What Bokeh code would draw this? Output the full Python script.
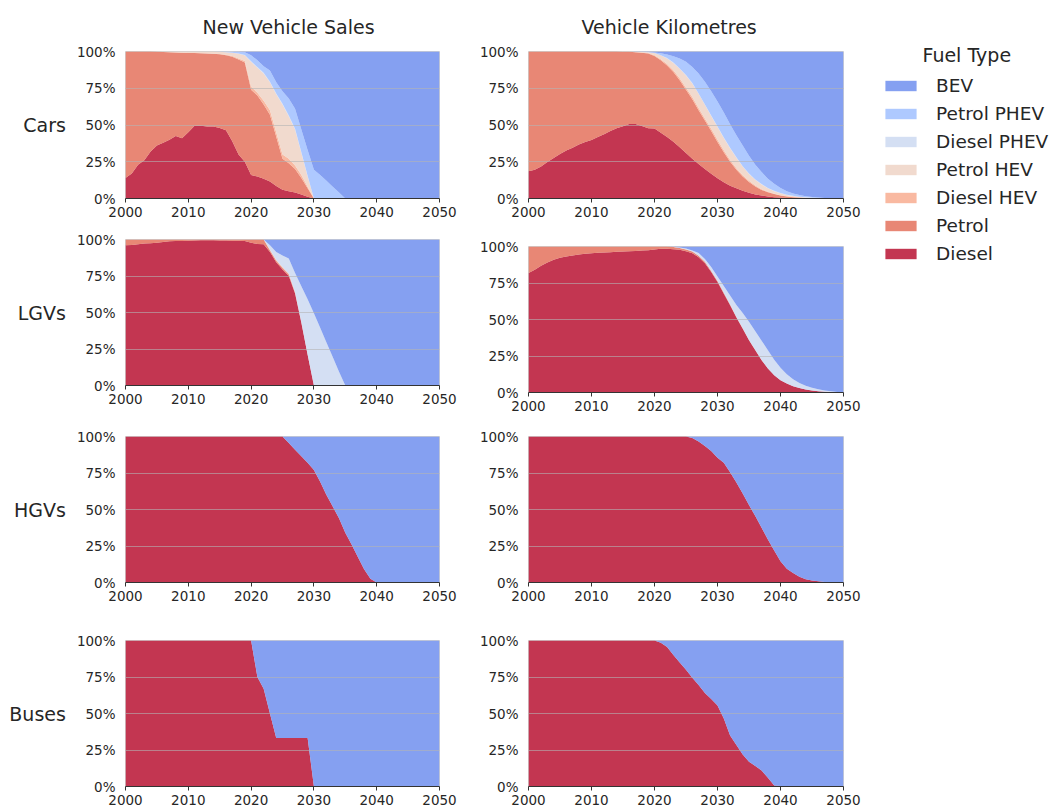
from bokeh.plotting import figure
from bokeh.layouts import row, column
from bokeh.models import (ColumnDataSource, Legend, LegendItem, FixedTicker,
                          PrintfTickFormatter, Range1d, LinearAxis)
from bokeh.embed import file_html
from bokeh.resources import INLINE

YEARS = list(range(2000, 2051))
X_TICKS = [2000, 2010, 2020, 2030, 2040, 2050]
Y_TICKS = [0, 25, 50, 75, 100]

FUELS = ["Diesel", "Petrol", "Diesel HEV", "Petrol HEV", "Diesel PHEV", "Petrol PHEV", "BEV"]
KEYS = ["diesel", "petrol", "diesel_hev", "petrol_hev", "diesel_phev", "petrol_phev", "bev"]
COLORS = ["#b40426", "#e26952", "#f7a889", "#edd1c2", "#c9d7f0", "#9abbff", "#6788ee"]

COL_TITLES = ["New Vehicle Sales", "Vehicle Kilometres"]
ROW_LABELS = ["Cars", "LGVs", "HGVs", "Buses"]
LEGEND_TITLE = "Fuel Type"

# ---------------- Cars: new vehicle sales (% share) ----------------
cars_sales_diesel = [14, 17, 23, 26, 32, 36, 38, 40, 42.5, 41,
                     45, 49.5, 49.5, 49, 49, 48, 46.5, 39, 30, 25,
                     16, 15, 13.5, 11.5, 8.5, 6, 5, 4, 2.8, 1.2, 0] + [0] * 20
cars_sales_petrol = [86, 83, 77, 74, 68, 63.8, 61.6, 59.5, 56.8, 58.2,
                     54, 49.5, 49.3, 49.7, 49.5, 50.2, 51, 57.5, 64.5, 67.5,
                     58, 55, 50.5, 45.5, 33.5, 21, 19, 16, 11.2, 5.8, 0] + [0] * 20
cars_sales_diesel_hev = [0] * 15 + [0.1, 0.3, 0.5, 0.8, 1, 2, 2, 2.5, 3, 3, 3, 3, 2.5, 2, 1, 0] + [0] * 20
cars_sales_petrol_hev = [0, 0, 0, 0, 0, 0.2, 0.4, 0.5, 0.7, 0.8,
                         1, 1, 1.2, 1.3, 1.5, 1.6, 1.7, 2.2, 3.2, 4,
                         17, 17, 18.5, 19, 26, 34, 29, 24.5, 15, 7, 0] + [0] * 20
cars_sales_diesel_phev = [0] * 18 + [0.1, 0.2, 0.3, 0.5, 0.5, 0.5, 0.5, 0.5, 0.5, 0.5, 0.5, 0.5, 0] + [0] * 20
cars_sales_petrol_phev = [0] * 15 + [0.1, 0.5, 0.8, 1.2, 1.8, 4.2, 4.5, 4.5, 7.5, 7.5, 8.5, 11.5,
                                     13.5, 15.5, 17.5, 19.5, 16, 12, 8, 4, 0] + [0] * 15
cars_sales_bev = [0] * 18 + [0.2, 0.5, 2.5, 6, 10, 13, 21, 27, 32, 39, 53, 67,
                             80.5, 84, 88, 92, 96] + [100] * 16

# ---------------- Cars: vehicle kilometres (% share) ----------------
cars_km_diesel = [18.5, 19.5, 21.8, 24.8, 27.6, 30.3, 32.6, 34.5, 36.8, 38.4,
                  39.8, 41.8, 43.7, 46, 47.8, 49.2, 50.6, 50.6, 49.4, 47.8,
                  47.6, 44.8, 41.8, 38.6, 34.9, 31, 27.1, 23.4, 20, 16.8,
                  13.8, 11, 8.7, 6.9, 5.3, 3.9, 2.8, 2.1, 1.4, 0.9,
                  0.7, 0.4, 0.3, 0.2, 0.1, 0.05, 0, 0, 0, 0, 0]
cars_km_petrol = [81.5, 80.5, 78.2, 75.2, 72.4, 69.7, 67.4, 65.5, 63.2, 61.6,
                  60.2, 58.2, 56.3, 54, 52.2, 50.7, 49.2, 48.9, 49.8, 50.9,
                  49.4, 49.2, 48.7, 47.4, 45.6, 43, 40.4, 36.6, 33, 29.2,
                  24.7, 20.5, 16.3, 12.6, 9.7, 7.3, 5.4, 3.7, 2.8, 2.1,
                  1.3, 1.0, 0.6, 0.4, 0.25, 0.15, 0.1, 0.05, 0, 0, 0]
cars_km_diesel_hev = [0] * 18 + [0.2, 0.3, 0.5, 0.8, 1, 1.2, 1.3, 1.4, 1.5, 1.5, 1.5, 1.5,
                                 1.4, 1.3, 1.2, 1, 0.9, 0.8, 0.6, 0.5, 0.4, 0.3,
                                 0.2, 0.15, 0.1, 0.05] + [0] * 7
cars_km_petrol_hev = [0] * 15 + [0.1, 0.15, 0.3, 0.3, 0.5,
                                 1.5, 2.7, 3.7, 5, 6.4, 8.3, 9.2, 9.7, 9.2, 8.7,
                                 8.8, 8.4, 8, 7.2, 5.8, 4.7, 3.9, 3.2, 2.3, 1.7,
                                 1.3, 0.85, 0.7, 0.45, 0.35, 0.3, 0.2, 0.1, 0.05, 0, 0]
cars_km_diesel_phev = [0] * 22 + [0.3] * 17 + [0.2, 0.2, 0.2, 0.1, 0.1, 0.1] + [0] * 6
cars_km_petrol_phev = [0] * 16 + [0.05, 0.1, 0.1, 0.2,
                                  0.4, 1.3, 2.5, 4.3, 6.8, 9, 11, 13.5, 15.5, 16.5,
                                  17, 17, 16, 15, 14, 12, 10, 8.2, 6.3, 4.8,
                                  3.5, 2.4, 1.6, 1.1, 0.7, 0.5, 0.3, 0.2, 0.15, 0.1, 0.05]
cars_km_bev = [0] * 17 + [0.1, 0.2, 0.3,
                          0.6, 1.2, 2, 3.2, 4.7, 7, 10.5, 15, 20.5, 27,
                          34, 41.5, 49.5, 57, 64, 71, 77, 82, 86.5, 90,
                          92.8, 95, 96.6, 97.7, 98.5, 99, 99.4, 99.65, 99.8, 99.9, 99.95]

# ---------------- LGVs ----------------
lgv_sales_diesel = [96, 96.3, 96.8, 97.2, 97.5, 97.8, 98.3, 98.8, 99, 99,
                    99.2, 99.4, 99.5, 99.5, 99.5, 99.4, 99.3, 99.2, 99.1, 98.9,
                    97.7, 97, 96.8, 91.5, 84.5, 79.5, 75, 63, 43, 21, 0] + [0] * 20
lgv_sales_petrol = [4, 3.7, 3.2, 2.8, 2.5, 2.2, 1.7, 1.2, 1, 1,
                    0.8, 0.6, 0.5, 0.5, 0.5, 0.6, 0.7, 0.8, 0.9, 1.1,
                    2.3, 3, 3.2, 1, 1, 1, 1, 0.5, 0.3, 0.2, 0] + [0] * 20
lgv_sales_diesel_hev = [0] * 23 + [0.5, 0.5, 0.5, 0.5, 0.3] + [0] * 23
lgv_sales_petrol_hev = [0] * 51
lgv_sales_diesel_phev = [0] * 23 + [3, 5.5, 8, 10.5, 13.2, 24.7, 37.8, 49.5, 39.5, 29.5, 19.5, 9.5, 0] + [0] * 15
lgv_sales_petrol_phev = [0] * 51
lgv_sales_bev = [0] * 23 + [4, 8.5, 11, 13, 23, 32, 41, 50.5, 60.5, 70.5, 80.5, 90.5] + [100] * 16

lgv_km_diesel = [81.8, 84, 86.8, 89, 90.9, 92.3, 93.2, 93.8, 94.5, 95,
                 95.4, 95.7, 95.9, 96.1, 96.4, 96.6, 96.8, 97, 97.3, 97.5,
                 97.9, 98.4, 98.4, 98.2, 97.7, 96.8, 95.4, 92.7, 88.6, 82.5,
                 75.6, 67.7, 59.7, 51.3, 43.7, 35.8, 28.9, 22.1, 16.4, 11.8,
                 8.4, 6.2, 4.3, 3, 2, 1.4, 0.9, 0.5, 0.3, 0.15, 0.05]
lgv_km_petrol = [18.2, 16, 13.2, 11, 9.1, 7.7, 6.8, 6.2, 5.5, 5,
                 4.6, 4.3, 4.1, 3.9, 3.6, 3.4, 3.2, 3, 2.7, 2.5,
                 2.1, 1.6, 1.6, 1.4, 1.3, 1.2, 1.1, 1, 0.9, 0.8,
                 0.7, 0.6, 0.5, 0.4, 0.3, 0.2, 0.15, 0.1, 0.05, 0] + [0] * 11
lgv_km_diesel_hev = [0] * 51
lgv_km_petrol_hev = [0] * 51
lgv_km_diesel_phev = [0] * 23 + [0.2, 0.4, 0.6, 0.8, 1.8, 2, 2.7,
                                 3.2, 4.7, 6.3, 8.3, 10.5, 12.5, 12.95, 13.3, 12.55, 10.7,
                                 8.6, 6.3, 4.7, 3.5, 2.6, 1.8, 1.3, 0.9, 0.5, 0.25, 0.1]
lgv_km_petrol_phev = [0] * 51
lgv_km_bev = [0] * 23 + [0.2, 0.6, 1.4, 2.7, 4.5, 8.5, 14,
                         20.5, 27, 33.5, 40, 45.5, 51.5, 58, 64.5, 71, 77.5,
                         83, 87.5, 91, 93.5, 95.4, 96.8, 97.8, 98.6, 99.2, 99.6, 99.85]

# ---------------- HGVs ----------------
hgv_sales_diesel = [100] * 26 + [95.5, 91, 86.5, 82, 77, 69, 60, 52, 44, 34, 26, 17.5, 9, 2.5, 0] + [0] * 10
hgv_sales_bev = [0] * 26 + [4.5, 9, 13.5, 18, 23, 31, 40, 48, 56, 66, 74, 82.5, 91, 97.5, 100] + [100] * 10
hgv_km_diesel = [100] * 26 + [99, 96.6, 93.5, 90, 85.5, 82, 75.5, 68.5, 61, 53, 45.5, 37.5, 29.5, 22, 14.5,
                              9.5, 6.5, 4, 2.3, 1.3, 0.8, 0.4, 0.1, 0, 0]
hgv_km_bev = [0] * 26 + [1, 3.4, 6.5, 10, 14.5, 18, 24.5, 31.5, 39, 47, 54.5, 62.5, 70.5, 78, 85.5,
                         90.5, 93.5, 96, 97.7, 98.7, 99.2, 99.6, 99.9, 100, 100]

# ---------------- Buses ----------------
bus_sales_diesel = [100] * 21 + [75, 67, 50, 33.3, 33.3, 33.3, 33.3, 33.3, 33.3, 0] + [0] * 20
bus_sales_bev = [0] * 21 + [25, 33, 50, 66.7, 66.7, 66.7, 66.7, 66.7, 66.7, 100] + [100] * 20
bus_km_diesel = [100] * 21 + [98.5, 95.5, 90, 85, 80, 74.5, 69.5, 64, 60,
                              55.5, 46.5, 35, 28.5, 22, 17, 14, 11, 6, 0.7, 0.3, 0.1] + [0] * 9
bus_km_bev = [0] * 21 + [1.5, 4.5, 10, 15, 20, 25.5, 30.5, 36, 40,
                         44.5, 53.5, 65, 71.5, 78, 83, 86, 89, 94, 99.3, 99.7, 99.9] + [100] * 9

ZERO = [0] * 51


def panel_data(diesel, petrol, diesel_hev, petrol_hev, diesel_phev, petrol_phev, bev):
    return dict(year=YEARS, diesel=diesel, petrol=petrol, diesel_hev=diesel_hev,
                petrol_hev=petrol_hev, diesel_phev=diesel_phev, petrol_phev=petrol_phev, bev=bev)


PANELS = [
    [panel_data(cars_sales_diesel, cars_sales_petrol, cars_sales_diesel_hev, cars_sales_petrol_hev,
                cars_sales_diesel_phev, cars_sales_petrol_phev, cars_sales_bev),
     panel_data(cars_km_diesel, cars_km_petrol, cars_km_diesel_hev, cars_km_petrol_hev,
                cars_km_diesel_phev, cars_km_petrol_phev, cars_km_bev)],
    [panel_data(lgv_sales_diesel, lgv_sales_petrol, lgv_sales_diesel_hev, lgv_sales_petrol_hev,
                lgv_sales_diesel_phev, lgv_sales_petrol_phev, lgv_sales_bev),
     panel_data(lgv_km_diesel, lgv_km_petrol, lgv_km_diesel_hev, lgv_km_petrol_hev,
                lgv_km_diesel_phev, lgv_km_petrol_phev, lgv_km_bev)],
    [panel_data(hgv_sales_diesel, ZERO, ZERO, ZERO, ZERO, ZERO, hgv_sales_bev),
     panel_data(hgv_km_diesel, ZERO, ZERO, ZERO, ZERO, ZERO, hgv_km_bev)],
    [panel_data(bus_sales_diesel, ZERO, ZERO, ZERO, ZERO, ZERO, bus_sales_bev),
     panel_data(bus_km_diesel, ZERO, ZERO, ZERO, ZERO, ZERO, bus_km_bev)],
]

FONT = "DejaVu Sans"
TEXT = "#262626"
BIG = "19px"
LEG = "18.5px"
TICK = "13.5px"

# figure geometry: (height, top border, bottom border) per row, for each column
GEOM = [
    [(220, 51, 22), (190, 19, 25), (196, 26, 24), (201, 34, 21)],   # left column
    [(220, 51, 22), (196, 26, 24), (190, 20, 24), (201, 34, 21)],   # right column
]
COL_W = [458, 404]
COL_LR = [(125, 19), (70, 19)]
TITLE_OFFSET = [77, 53]


def style_title(t, text, offset):
    t.text = text
    t.align = "left"
    t.offset = offset
    t.text_font = FONT
    t.text_font_size = BIG
    t.text_font_style = "normal"
    t.text_color = TEXT


def add_gap(p, standoff):
    # tick-less, line-less top axis that only reserves a few px between frame and title
    gap = LinearAxis(ticker=FixedTicker(ticks=[]), axis_line_color=None,
                     major_tick_line_color=None, minor_tick_line_color=None,
                     major_tick_out=0, major_tick_in=0, major_label_standoff=0,
                     axis_label=" ", axis_label_standoff=standoff,
                     axis_label_text_font_size="1px", axis_label_text_alpha=0)
    p.add_layout(gap, "above")


def make_panel(ci, ri):
    h, top, bottom = GEOM[ci][ri]
    left, right = COL_LR[ci]
    p = figure(width=COL_W[ci], height=h, x_range=Range1d(2000, 2050), y_range=Range1d(0, 100),
               toolbar_location=None, output_backend="svg",
               min_border_left=left, min_border_right=right,
               min_border_top=top, min_border_bottom=bottom)
    src = ColumnDataSource(PANELS[ri][ci])
    p.varea_stack(stackers=KEYS, x="year", color=COLORS, fill_alpha=0.8, source=src)

    p.background_fill_color = "white"
    p.border_fill_color = "white"
    p.outline_line_color = "#c8c8c8"
    p.outline_line_alpha = 0.8

    xa = p.xaxis[0]
    xa.ticker = FixedTicker(ticks=X_TICKS)
    xa.axis_line_color = "#333333"
    xa.major_tick_line_color = "#333333"
    xa.major_tick_out = 4
    xa.major_tick_in = 0
    xa.minor_tick_line_color = None
    xa.major_label_standoff = 4
    xa.major_label_text_font = FONT
    xa.major_label_text_font_size = TICK
    xa.major_label_text_color = TEXT

    ya = p.yaxis[0]
    ya.ticker = FixedTicker(ticks=Y_TICKS)
    ya.formatter = PrintfTickFormatter(format="%d%%")
    ya.axis_line_color = None
    ya.major_tick_line_color = None
    ya.minor_tick_line_color = None
    ya.major_tick_out = 0
    ya.major_tick_in = 0
    ya.major_label_standoff = 10
    ya.major_label_text_font = FONT
    ya.major_label_text_font_size = TICK
    ya.major_label_text_color = TEXT

    p.xgrid.visible = False
    p.ygrid.ticker = FixedTicker(ticks=[25, 50, 75])
    p.ygrid.grid_line_color = "#b4b4b4"
    p.ygrid.grid_line_alpha = 0.6
    p.ygrid.level = "overlay"

    if ri == 0:
        style_title(p.title, COL_TITLES[ci], TITLE_OFFSET[ci])
        add_gap(p, 5)
    if ci == 0:
        ya.axis_label = ROW_LABELS[ri]
        if "axis_label_orientation" in ya.properties():
            ya.axis_label_orientation = "horizontal"
        ya.axis_label_standoff = 8
        ya.axis_label_text_font = FONT
        ya.axis_label_text_font_size = BIG
        ya.axis_label_text_font_style = "normal"
        ya.axis_label_text_color = TEXT
    return p


cols = []
for ci in range(2):
    cols.append(column([make_panel(ci, ri) for ri in range(4)], spacing=0))

# legend panel: stack drawn from the Cars / km data but kept out of view (range 0..1)
lf = figure(width=189, height=300, x_range=Range1d(0, 1), y_range=Range1d(0, 1),
            toolbar_location=None, output_backend="svg",
            x_axis_location=None, y_axis_location=None,
            min_border_left=19, min_border_top=74, min_border_right=0, min_border_bottom=0)
lf.grid.visible = False
lf.outline_line_color = None
lf.background_fill_color = "white"
lf.border_fill_color = "white"
leg_renderers = lf.varea_stack(stackers=KEYS, x="year", color=COLORS, fill_alpha=0.8,
                               source=ColumnDataSource(PANELS[0][1]))
items = [LegendItem(label=name, renderers=[r]) for name, r in zip(FUELS, leg_renderers)]
items.reverse()
legend = Legend(items=items, location="top_left", margin=0, padding=0, spacing=5,
                glyph_width=39, glyph_height=13, label_height=23, label_standoff=16,
                label_text_font=FONT, label_text_font_size=LEG, label_text_color=TEXT,
                border_line_color=None, background_fill_alpha=0)
lf.add_layout(legend)
style_title(lf.title, LEGEND_TITLE, 41)
add_gap(lf, 0)

layout = row([cols[0], cols[1], lf], spacing=0)

open("out.html", "w").write(file_html(layout, INLINE))
